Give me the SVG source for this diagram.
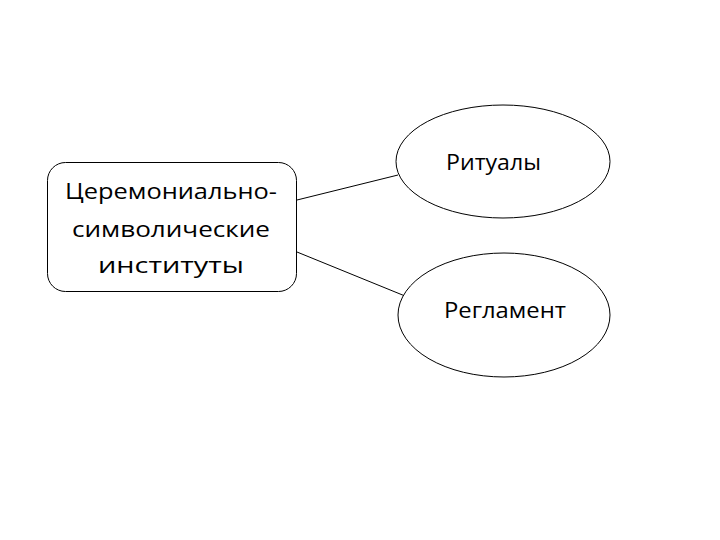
<svg xmlns="http://www.w3.org/2000/svg" width="720" height="540" viewBox="0 0 720 540">
<style>
.shape{fill:#fff;stroke:#000;stroke-width:1}
.conn line{stroke:#000;stroke-width:1}
text{font-family:"Open Sans","Liberation Sans",sans-serif;font-size:22px;fill:#000;text-anchor:middle}
</style>
<rect width="720" height="540" fill="#fff"/>
<g id="conn" class="conn">
<line x1="297" y1="200" x2="398" y2="175"/>
<line x1="297" y1="252" x2="405" y2="296"/>
</g>
<g id="node-institutes">
<rect class="shape" x="47.5" y="162.5" width="249" height="129" rx="18" ry="18"/>
<text x="171" y="199" textLength="212" lengthAdjust="spacingAndGlyphs">Церемониально-</text>
<text x="171" y="237" textLength="198" lengthAdjust="spacingAndGlyphs">символические</text>
<text x="171" y="273" textLength="146" lengthAdjust="spacingAndGlyphs">институты</text>
</g>
<g id="node-rituals">
<ellipse class="shape" cx="503" cy="161.5" rx="107" ry="56.5"/>
<text x="493.5" y="170" textLength="95" lengthAdjust="spacingAndGlyphs">Ритуалы</text>
</g>
<g id="node-reglament">
<ellipse class="shape" cx="504" cy="315" rx="106" ry="62"/>
<text x="505" y="318" textLength="122" lengthAdjust="spacingAndGlyphs">Регламент</text>
</g>
</svg>
